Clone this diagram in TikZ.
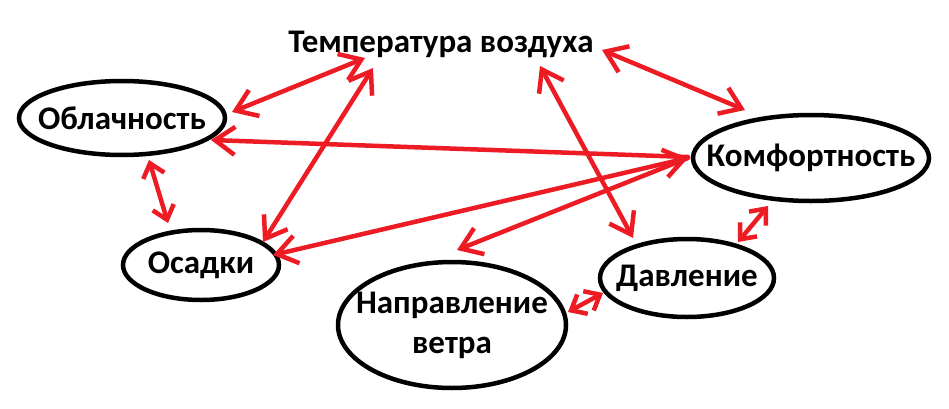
\documentclass[tikz,border=0pt]{standalone}
\usepackage{fontspec}
\setmainfont{Carlito}
\usetikzlibrary{arrows.meta,shapes.geometric,calc}
\definecolor{pred}{RGB}{237,28,36}
\begin{document}
\begin{tikzpicture}[x=1pt,y=1pt,
  lbl/.style={font=\fontsize{33}{40}\bfseries\selectfont, align=center, inner sep=0pt},
  bub/.style={ellipse, draw=black, line width=4.5pt, inner sep=0pt},
  link/.style={draw=pred, line width=4.5pt, line cap=round, line join=round},
  both/.style={link, {Straight Barb[length=20pt,width=28pt]}-{Straight Barb[length=20pt,width=28pt]}},
  sboth/.style={link, {Straight Barb[length=13pt,width=22pt]}-{Straight Barb[length=13pt,width=22pt]}},
  tohead/.style={link, -{Straight Barb[length=20pt,width=28pt]}},
]
\useasboundingbox (0,0) rectangle (949,408);
\fill[white] (0,0) rectangle (949,408);

\node[lbl] (temp) at (441,364) {Температура воздуха};
\node[bub, minimum width=206, minimum height=74, label={[lbl]center:Облачность}] (obl) at (122,290) {};
\node[bub, minimum width=156, minimum height=70, label={[lbl]center:Осадки}] (osad) at (201,143) {};
\node[bub, minimum width=236, minimum height=86, label={[lbl]center:Комфортность}] (komf) at (811,250) {};
\node[bub, minimum width=174, minimum height=78, label={[lbl]center:Давление}] (davl) at (687,130) {};
\node[bub, minimum width=228, minimum height=126, label={[lbl]center:Направление\\ветра}] (napr) at (452,83) {};

% arrows
\draw[both] ($(obl.center)+(110,6)$) -- ($(temp.center)+(-76,-14)$);
\draw[both] ($(temp.center)+(-68,-24)$) -- ($(osad.center)+(62,23)$);
\draw[tohead] ($(komf.center)+(-123,1)$) -- ($(obl.center)+(89,-22)$);
\draw[both] ($(osad.center)+(72,10)$) -- ($(komf.center)+(-123,0)$);
\draw[tohead] ($(komf.center)+(-123,0)$) -- ($(napr.center)+(5,75)$);
\draw[both] ($(temp.center)+(99,-22)$) -- ($(davl.center)+(-54,40)$);
\draw[both] ($(temp.center)+(161,-6)$) -- ($(komf.center)+(-66,48)$);
\draw[sboth] ($(obl.center)+(27,-42)$) -- ($(osad.center)+(-33,42)$);
\draw[sboth] ($(komf.center)+(-43,-48)$) -- ($(davl.center)+(51,36)$);
\draw[sboth] ($(napr.center)+(116,13)$) -- ($(davl.center)+(-84,-15)$);
\end{tikzpicture}
\end{document}
